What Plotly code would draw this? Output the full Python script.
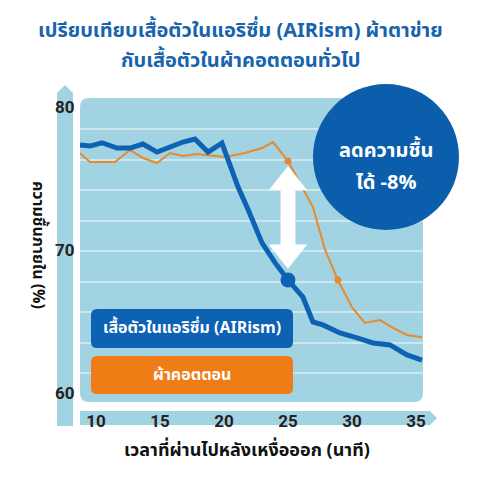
import plotly.graph_objects as go

# ข้อมูล (อ่านค่าจากภาพ)
airism_x = [8.75, 9.53, 10.47, 11.64, 12.66, 13.67, 14.77, 15.78, 16.8, 17.73, 18.75, 19.84,
            20.3, 21.1, 21.9, 22.97, 24.0, 25.0, 26.17, 26.95, 27.73, 29.06, 30.4, 31.64,
            32.97, 34.3, 35.47]
airism_y = [77.34, 77.27, 77.5, 77.13, 77.13, 77.41, 76.85, 77.2, 77.55, 77.76, 76.85, 77.48,
            76.3, 74.4, 72.8, 70.5, 69.1, 67.9, 66.7, 64.97, 64.76, 64.2, 63.85, 63.5,
            63.36, 62.66, 62.3]

cotton_x = [8.75, 9.53, 11.48, 12.66, 13.67, 14.77, 15.78, 16.8, 17.89, 20.08, 21.64, 22.97,
            23.83, 25.0, 26.1, 26.95, 27.9, 28.9, 30.0, 31.0, 32.19, 33.2, 34.3, 35.47]
cotton_y = [76.78, 76.15, 76.15, 77.0, 76.43, 76.08, 76.78, 76.57, 76.71, 76.5, 76.78, 77.13,
            77.55, 76.22, 74.4, 73.0, 70.0, 67.9, 66.0, 64.9, 65.1, 64.55, 64.06, 63.9]

airism_dot_x = [25.0]
airism_dot_y = [67.9]
cotton_dot_x = [25.0, 28.9]
cotton_dot_y = [76.22, 67.9]

x_ticks = [10, 15, 20, 25, 30, 35]
y_ticks = [60, 70, 80]

title_lines = ["เปรียบเทียบเสื้อตัวในแอริซึ่ม (AIRism) ผ้าตาข่าย", "กับเสื้อตัวในผ้าคอตตอนทั่วไป"]
label_airism = "เสื้อตัวในแอริซึ่ม (AIRism)"
label_cotton = "ผ้าคอตตอน"
callout_lines = ["ลดความชื้น", "ได้ -8%"]
x_title = "เวลาที่ผ่านไปหลังเหงื่อออก (นาที)"
y_title = "ความชื้นภายใน (%)"

BLUE = "#0d62b3"
ORANGE = "#e8892c"
BOX_ORANGE = "#f07c16"
LIGHT = "#a2d3e3"
TITLE_BLUE = "#1763ad"
THAI = "Noto Sans Thai, Noto Sans, Tahoma, sans-serif"
NUM = "Liberation Sans Narrow, Arial Narrow, Roboto, sans-serif"

# พื้นที่กราฟในหน่วยพิกเซล
L, R, T, B = 80, 423, 98, 402


def px(x):
    return (x - L) / (R - L)


def py(y):
    return (B - y) / (B - T)


def rrect(x0, y0, x1, y1, r):
    # สี่เหลี่ยมมุมมน (พิกเซล -> paper)
    pts = [
        f"M {px(x0 + r)} {py(y0)}",
        f"L {px(x1 - r)} {py(y0)}",
        f"Q {px(x1)} {py(y0)} {px(x1)} {py(y0 + r)}",
        f"L {px(x1)} {py(y1 - r)}",
        f"Q {px(x1)} {py(y1)} {px(x1 - r)} {py(y1)}",
        f"L {px(x0 + r)} {py(y1)}",
        f"Q {px(x0)} {py(y1)} {px(x0)} {py(y1 - r)}",
        f"L {px(x0)} {py(y0 + r)}",
        f"Q {px(x0)} {py(y0)} {px(x0 + r)} {py(y0)}",
        "Z",
    ]
    return " ".join(pts)


def poly(points):
    return "M " + " L ".join(f"{px(a)} {py(b)}" for a, b in points) + " Z"


def label(text, x, y, size, color, **kw):
    return dict(text=text, x=px(x), y=py(y), xref="paper", yref="paper", showarrow=False,
                xanchor="center", yanchor="middle",
                font=dict(family=kw.pop("family", THAI), size=size, color=color), **kw)


fig = go.Figure()

fig.add_trace(go.Scatter(x=cotton_x, y=cotton_y, mode="lines",
                         line=dict(color=ORANGE, width=2), hoverinfo="skip"))
fig.add_trace(go.Scatter(x=airism_x, y=airism_y, mode="lines",
                         line=dict(color=BLUE, width=5), hoverinfo="skip"))
fig.add_trace(go.Scatter(x=cotton_dot_x, y=cotton_dot_y, mode="markers",
                         marker=dict(color=ORANGE, size=7), hoverinfo="skip"))
fig.add_trace(go.Scatter(x=airism_dot_x, y=airism_dot_y, mode="markers",
                         marker=dict(color=BLUE, size=15), hoverinfo="skip"))

shapes = []
# พื้นหลังกราฟ
shapes.append(dict(type="path", xref="paper", yref="paper", path=rrect(L, T, R, B, 9),
                   fillcolor=LIGHT, line=dict(width=0), layer="below"))
# แกน y (แถบลูกศร)
shapes.append(dict(type="path", xref="paper", yref="paper",
                   path=poly([(57, 426), (57, 93), (65, 85), (73, 93), (73, 426)]),
                   fillcolor=LIGHT, line=dict(width=0), layer="below"))
# แกน x (แถบลูกศร)
shapes.append(dict(type="path", xref="paper", yref="paper",
                   path=poly([(80, 411), (430, 411), (437, 418), (430, 425), (80, 425)]),
                   fillcolor=LIGHT, line=dict(width=0), layer="below"))

# ลูกศรสีขาว
ax = airism_dot_x[0]
top, bot = cotton_dot_y[0] - 0.35, airism_dot_y[0] + 0.78
hw, sw, hh = 1.5, 0.58, 1.7
arrow = [(ax, top), (ax + hw, top - hh), (ax + sw, top - hh), (ax + sw, bot + hh),
         (ax + hw, bot + hh), (ax, bot), (ax - hw, bot + hh), (ax - sw, bot + hh),
         (ax - sw, top - hh), (ax - hw, top - hh)]
shapes.append(dict(type="path", xref="x", yref="y",
                   path="M " + " L ".join(f"{a} {b}" for a, b in arrow) + " Z",
                   fillcolor="white", line=dict(width=0), layer="above"))

# วงกลม
shapes.append(dict(type="circle", xref="paper", yref="paper",
                   x0=px(313), x1=px(459), y0=py(230), y1=py(84),
                   fillcolor="#0a5eac", line=dict(width=0), layer="above"))

# กล่องคำอธิบาย
shapes.append(dict(type="path", xref="paper", yref="paper", path=rrect(91, 309, 293, 348, 6),
                   fillcolor=BLUE, line=dict(width=0), layer="above"))
shapes.append(dict(type="path", xref="paper", yref="paper", path=rrect(91, 356, 293, 394, 6),
                   fillcolor=BOX_ORANGE, line=dict(width=0), layer="above"))

annotations = []
for i, t in enumerate(title_lines):
    annotations.append(label(f"<b>{t}</b>", 240, 31 + 30 * i, 20, TITLE_BLUE))
for i, t in enumerate(callout_lines):
    annotations.append(label(f"<b>{t}</b>", 386, 151 + 32 * i, 20, "white"))

annotations.append(label(f"<b>{label_airism}</b>", 192, 328, 16, "white"))
annotations.append(label(f"<b>{label_cotton}</b>", 192, 375, 16, "white"))
annotations.append(label(f"<b>{x_title}</b>", 247, 450, 18, "#111"))
annotations.append(label(f"<b>{y_title}</b>", 38, 245, 16, "#111", textangle=90))

for v in y_ticks:
    annotations.append(dict(text=f"<b>{v}</b>", x=px(65), y=v, xref="paper", yref="y",
                            xanchor="center", yanchor="middle", showarrow=False,
                            font=dict(family=NUM, size=17, color="#222")))

fig.update_layout(
    width=480, height=480,
    margin=dict(l=L, r=480 - R, t=T, b=480 - B),
    paper_bgcolor="white", plot_bgcolor="rgba(0,0,0,0)",
    showlegend=False,
    shapes=shapes, annotations=annotations,
    xaxis=dict(range=[8.75, 35.55], tickvals=x_ticks, ticktext=[f"<b>{v}</b>" for v in x_ticks],
               showgrid=False, zeroline=False, showline=False, ticks="",
               ticklabelstandoff=7,
               tickfont=dict(family=NUM, size=17, color="#222")),
    yaxis=dict(range=[59.37, 80.63], tick0=61.4, dtick=2.13, showticklabels=False,
               showgrid=True, gridcolor="rgba(255,255,255,0.45)", gridwidth=1.5,
               zeroline=False, showline=False, ticks=""),
)

fig.write_html("out.html", config={"displayModeBar": False},
               post_script="document.body.style.margin='0';")
